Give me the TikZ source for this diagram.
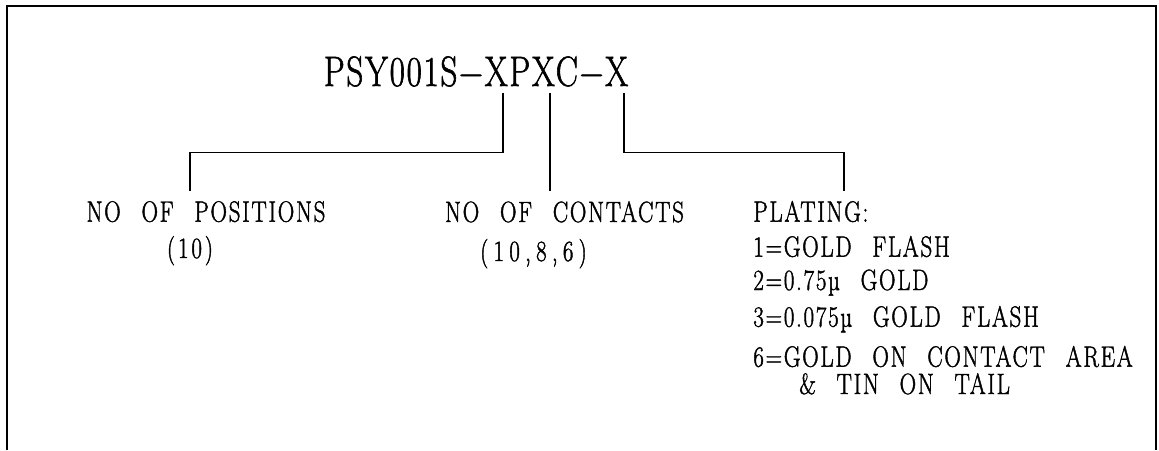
\documentclass[tikz,border=0pt]{standalone}
\usepackage{fontspec}
\setmainfont{Latin Modern Roman}[FakeStretch=0.78,LetterSpace=6,WordSpace=2.4,FakeBold=1.4]
\usetikzlibrary{positioning,calc}

\newcommand{\cadsize}{\fontsize{16.7}{20}\selectfont}
\newcommand{\partsize}{\fontsize{24.2}{28}\selectfont}

\begin{document}
\begin{tikzpicture}[scale=1.0,
    lbl/.style={font=\cadsize, anchor=base, inner sep=0.2cm},
    plate/.style={font=\cadsize, anchor=base west, inner sep=0.2cm},
    tight/.style={inner sep=0pt, text height=0.4cm, text depth=0pt},
    leader/.style={line width=0.9pt}]
    \useasboundingbox (0,0) rectangle (23.18,9);

    % Frame
    \draw[line width=1.2pt] (0.14,0) -- (0.14,8.88) -- (23.12,8.88) -- (23.12,0);

    % Part number
    \node[font=\partsize, anchor=base, inner sep=0pt] (part) at (9.52,7.28)
        {\addfontfeatures{LetterSpace=4}PSY001S−XPXC−X};
    \coordinate (posTop) at (10.06,7.14);
    \coordinate (conTop) at (11.0,7.14);
    \coordinate (platTop) at (12.48,7.14);

    % Labels
    \node[lbl] (pos) at (4.12,4.566) {NO OF POSITIONS};
    \node[lbl, tight] (posval) at (3.8,3.84) {\addfontfeatures{LetterSpace=10}(10)};
    \node[lbl] (con) at (11.29,4.56) {NO OF CONTACTS};
    \node[lbl, tight] (conval) at (10.67,3.78) {\addfontfeatures{LetterSpace=18}(10,8,6)};

    % Plating options
    \node[plate] (plat) at (14.86,4.566) {PLATING:};
    \foreach \y/\t [count=\i] in {3.866/{1=GOLD FLASH}, 3.2/{2=0.75µ GOLD},
        2.466/{3=0.075µ GOLD FLASH}, 1.666/{6=GOLD ON CONTACT AREA}} {
        \node[plate, tight] (plat\i) at (15.06,\y) {\t};
    }
    \node[plate, tight] (plat5) at (15.98,1.12) {\& TIN ON TAIL};

    % Leaders
    \coordinate (posBend) at (3.8,5.95);
    \coordinate (platBend) at (16.88,5.95);
    \draw[leader] (posTop) |- (posBend) -- (posBend |- pos.north);
    \draw[leader] (conTop) -- (conTop |- con.north);
    \draw[leader] (platTop) |- (platBend) -- (platBend |- plat.north);
\end{tikzpicture}
\end{document}
